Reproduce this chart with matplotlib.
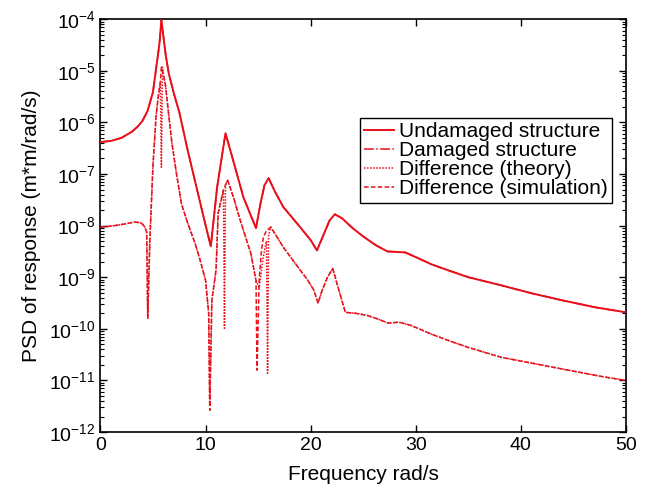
import matplotlib
matplotlib.use("Agg")
import matplotlib.pyplot as plt
import numpy as np

# values (frequency in rad/s, PSD as log10)
freq_undamaged = [0.0, 1.0, 2.0, 3.0, 3.5, 4.0, 4.5, 5.0, 5.3, 5.6, 5.8, 6.0, 6.2, 6.5, 7.0,
                  7.5, 8.3, 9.2, 10.0, 10.5, 11.1, 11.5, 11.9, 12.7, 13.6, 14.8, 15.2, 15.6,
                  16.0, 16.6, 17.4, 19.0, 20.0, 20.6, 21.2, 21.8, 22.3, 23.0, 24.0, 25.0,
                  26.2, 27.3, 28.2, 29.0, 30.0, 31.5, 33.0, 35.0, 38.0, 41.0, 44.0, 47.0, 50.0]
log_undamaged = [-6.38, -6.36, -6.30, -6.18, -6.09, -5.97, -5.77, -5.41, -4.95, -4.50, -4.02,
                 -4.35, -4.68, -5.05, -5.45, -5.80, -6.54, -7.31, -7.99, -8.40, -7.26, -6.73,
                 -6.21, -6.79, -7.45, -8.05, -7.60, -7.22, -7.08, -7.34, -7.64, -8.03, -8.28,
                 -8.48, -8.19, -7.90, -7.78, -7.86, -8.05, -8.21, -8.38, -8.50, -8.51, -8.52,
                 -8.61, -8.75, -8.86, -9.00, -9.15, -9.31, -9.45, -9.58, -9.68]

# damaged structure lies on top of the undamaged curve in the picture
freq_damaged = list(freq_undamaged)
log_damaged = list(log_undamaged)

freq_sim = [0.0, 1.0, 2.0, 3.3, 3.9, 4.2, 4.4, 4.5, 4.7, 5.0, 5.3, 5.5, 5.7, 5.8, 6.0, 6.2,
            6.5, 6.8, 7.2, 7.7, 8.3, 9.0, 9.5, 10.0, 10.3, 10.4, 10.6, 11.0, 11.2, 11.7,
            12.1, 12.7, 13.3, 14.3, 14.8, 14.9, 15.1, 15.3, 15.5, 15.8, 16.2, 16.8, 17.4,
            18.2, 19.0, 19.7, 20.3, 20.7, 21.1, 21.6, 22.1, 22.6, 23.3, 24.3, 25.4, 26.4,
            27.4, 28.4, 29.5, 31.7, 33.3, 35.0, 38.1, 41.2, 44.5, 47.6, 50.0]
log_sim = [-8.03, -8.01, -7.98, -7.93, -7.95, -8.02, -8.13, -9.79, -8.28, -6.83, -5.86,
           -5.50, -5.22, -4.93, -5.08, -5.30, -5.86, -6.40, -6.95, -7.57, -7.95, -8.34,
           -8.68, -9.06, -9.70, -11.58, -9.45, -8.86, -7.76, -7.31, -7.12, -7.48, -7.90,
           -8.53, -9.06, -10.80, -9.06, -8.53, -8.22, -8.10, -8.03, -8.22, -8.42, -8.64,
           -8.86, -9.05, -9.25, -9.50, -9.25, -9.00, -8.83, -9.19, -9.68, -9.70, -9.74,
           -9.81, -9.89, -9.87, -9.93, -10.12, -10.24, -10.36, -10.55, -10.67, -10.80,
           -10.92, -11.00]

freq_theory = [0.0, 1.0, 2.0, 3.3, 3.9, 4.2, 4.4, 4.5, 4.7, 5.0, 5.3, 5.5, 5.7, 5.8, 5.9,
               6.0, 6.2, 6.5, 6.8, 7.2, 7.7, 8.3, 9.0, 9.5, 10.0, 10.3, 10.4, 10.6, 11.0,
               11.2, 11.7, 11.8, 11.9, 12.1, 12.7, 13.3, 14.3, 14.8, 15.1, 15.3, 15.5, 15.8,
               15.9, 16.0, 16.2, 16.8, 17.4, 18.2, 19.0, 19.7, 20.3, 20.7, 21.1, 21.6, 22.1,
               22.6, 23.3, 24.3, 25.4, 26.4, 27.4, 28.4, 29.5, 31.7, 33.3, 35.0, 38.1, 41.2,
               44.5, 47.6, 50.0]
log_theory = [-8.03, -8.01, -7.98, -7.93, -7.95, -8.02, -8.13, -9.79, -8.28, -6.83, -5.86,
              -5.50, -5.22, -6.87, -4.93, -5.08, -5.30, -5.86, -6.40, -6.95, -7.57, -7.95,
              -8.34, -8.68, -9.06, -9.70, -11.50, -9.45, -8.86, -7.76, -7.31, -9.99, -7.20,
              -7.12, -7.48, -7.90, -8.53, -9.06, -9.20, -8.90, -8.60, -8.30, -10.86, -8.20,
              -8.03, -8.22, -8.42, -8.64, -8.86, -9.05, -9.25, -9.50, -9.25, -9.00, -8.83,
              -9.19, -9.68, -9.70, -9.74, -9.81, -9.89, -9.87, -9.93, -10.12, -10.24, -10.36,
              -10.55, -10.67, -10.80, -10.92, -11.00]

plt.rcParams["font.family"] = ["Liberation Sans", "DejaVu Sans"]
plt.rcParams["mathtext.fontset"] = "custom"
plt.rcParams["mathtext.rm"] = "Liberation Sans"
plt.rcParams["mathtext.it"] = "Liberation Sans:italic"
plt.rcParams["mathtext.bf"] = "Liberation Sans:bold"

red = "#e8101a"

fig = plt.figure(figsize=(6.48, 4.91), dpi=100)
ax = fig.add_axes([0.155, 0.12, 0.811, 0.841])

ax.plot(freq_damaged, 10.0 ** np.array(log_damaged), color=red, lw=1.1, ls="-.",
        label="Damaged structure", zorder=2)
ax.plot(freq_theory, 10.0 ** np.array(log_theory), color=red, lw=1.1, ls=(0, (1, 1)),
        label="Difference (theory)", zorder=2)
ax.plot(freq_sim, 10.0 ** np.array(log_sim), color=red, lw=1.1, ls=(0, (3, 1.5)),
        label="Difference (simulation)", zorder=3)
ax.plot(freq_undamaged, 10.0 ** np.array(log_undamaged), color=red, lw=1.4, ls="-",
        label="Undamaged structure", zorder=4)

ax.set_yscale("log")
ax.set_xlim(0, 50)
ax.set_ylim(1e-12, 1e-4)
ax.set_xticks([0, 10, 20, 30, 40, 50])
ax.set_yticks([10.0 ** k for k in range(-12, -3)])
ax.tick_params(which="both", direction="in", top=True, right=True, labelsize=14)
ax.tick_params(which="major", length=5, width=1)
ax.tick_params(which="minor", length=3, width=0.8)
ax.tick_params(axis="x", which="minor", bottom=False, top=False)
for sp in ax.spines.values():
    sp.set_linewidth(1.2)

ax.set_xlabel("Frequency rad/s", fontsize=15, labelpad=8)
ax.set_ylabel("PSD of response (m*m/rad/s)", fontsize=15, labelpad=6)

handles, labels = ax.get_legend_handles_labels()
order = [3, 0, 1, 2]
leg = ax.legend([handles[i] for i in order], [labels[i] for i in order],
                loc="upper right", bbox_to_anchor=(0.973, 0.76), borderaxespad=0,
                fontsize=15, handlelength=1.4, handletextpad=0.25, labelspacing=0.0,
                borderpad=0.2, fancybox=False, framealpha=1)
leg.get_frame().set_edgecolor("black")
leg.get_frame().set_linewidth(1.0)

fig.savefig("out.png", dpi=100)
